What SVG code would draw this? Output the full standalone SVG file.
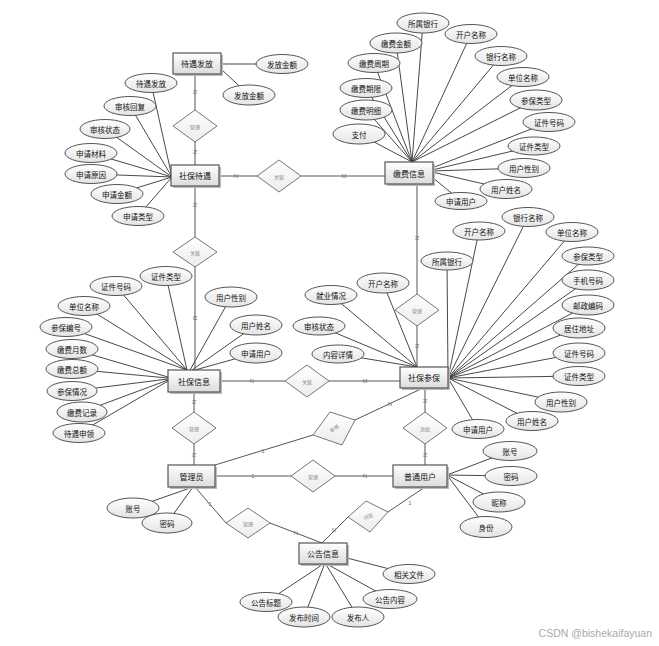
<svg xmlns="http://www.w3.org/2000/svg" width="659" height="646" viewBox="0 0 659 646">
<defs>
<linearGradient id="ge" x1="0" y1="0" x2="0" y2="1"><stop offset="0" stop-color="#ffffff"/><stop offset="1" stop-color="#e4e4e4"/></linearGradient>
<linearGradient id="gr" x1="0" y1="0" x2="0" y2="1"><stop offset="0" stop-color="#ffffff"/><stop offset="1" stop-color="#dcdcdc"/></linearGradient>
<linearGradient id="gd" x1="0" y1="0" x2="0" y2="1"><stop offset="0" stop-color="#ffffff"/><stop offset="1" stop-color="#ececec"/></linearGradient>
</defs>
<style>
.bg{fill:#ffffff}
.ln{stroke:#333;stroke-width:0.9;fill:none}
.rl{stroke:#555;stroke-width:1;fill:none}
ellipse{fill:url(#ge);stroke:#555;stroke-width:1}
.ent rect.s{fill:#bbb;stroke:none}
.ent rect.b{fill:url(#gr);stroke:#555;stroke-width:1.2}
.dia{fill:url(#gd);stroke:#777;stroke-width:1}
text{font-family:"Noto Sans CJK SC","Noto Sans",sans-serif;text-anchor:middle;dominant-baseline:central}
.at{font-size:7.5px;fill:#111}
.et{font-size:8px;fill:#111}
.dt{font-size:5px;fill:#888}
.cd{font-size:6px;fill:#777;font-family:"Liberation Sans",Arial,sans-serif}
.wm{font-size:10.5px;fill:#aaa;font-family:"Liberation Sans","Noto Sans CJK SC",sans-serif;text-anchor:end}
</style>
<rect class="bg" x="0" y="0" width="659" height="646"/>

<g id="connectors">
<!-- attribute lines: 待遇发放 -->
<line class="ln" x1="221" y1="64" x2="282" y2="64"/>
<line class="ln" x1="221" y1="69" x2="249" y2="95"/>
<!-- 社保待遇 attributes -->
<line class="ln" x1="172" y1="177" x2="151" y2="83"/>
<line class="ln" x1="172" y1="177" x2="130" y2="106"/>
<line class="ln" x1="172" y1="177" x2="105" y2="129"/>
<line class="ln" x1="172" y1="177" x2="91" y2="153"/>
<line class="ln" x1="172" y1="177" x2="91" y2="174"/>
<line class="ln" x1="172" y1="177" x2="117" y2="194"/>
<line class="ln" x1="172" y1="177" x2="138" y2="216"/>
<!-- 缴费信息 attributes -->
<line class="ln" x1="412" y1="162" x2="423" y2="23"/>
<line class="ln" x1="412" y1="162" x2="471" y2="34"/>
<line class="ln" x1="412" y1="162" x2="396" y2="43"/>
<line class="ln" x1="412" y1="162" x2="501" y2="56"/>
<line class="ln" x1="412" y1="162" x2="374" y2="63"/>
<line class="ln" x1="412" y1="162" x2="523" y2="77"/>
<line class="ln" x1="412" y1="162" x2="366" y2="88"/>
<line class="ln" x1="412" y1="162" x2="536" y2="100"/>
<line class="ln" x1="412" y1="162" x2="366" y2="110"/>
<line class="ln" x1="412" y1="162" x2="359" y2="134"/>
<line class="ln" x1="432" y1="168" x2="549" y2="122"/>
<line class="ln" x1="432" y1="170" x2="534" y2="146"/>
<line class="ln" x1="432" y1="171" x2="524" y2="168"/>
<line class="ln" x1="432" y1="172" x2="506" y2="189"/>
<line class="ln" x1="432" y1="177" x2="461" y2="201"/>
<!-- 社保信息 attributes -->
<line class="ln" x1="187" y1="370" x2="166" y2="276"/>
<line class="ln" x1="187" y1="370" x2="116" y2="286"/>
<line class="ln" x1="187" y1="370" x2="84" y2="306"/>
<line class="ln" x1="187" y1="370" x2="66" y2="327"/>
<line class="ln" x1="168" y1="377" x2="72" y2="349"/>
<line class="ln" x1="168" y1="378" x2="72" y2="369"/>
<line class="ln" x1="168" y1="379" x2="72" y2="391"/>
<line class="ln" x1="168" y1="380" x2="82" y2="412"/>
<line class="ln" x1="168" y1="381" x2="79" y2="433"/>
<line class="ln" x1="190" y1="370" x2="231" y2="297"/>
<line class="ln" x1="192" y1="370" x2="256" y2="325"/>
<line class="ln" x1="195" y1="370" x2="256" y2="353"/>
<!-- 社保参保 attributes -->
<line class="ln" x1="417" y1="367" x2="331" y2="295"/>
<line class="ln" x1="417" y1="367" x2="383" y2="283"/>
<line class="ln" x1="417" y1="367" x2="319" y2="326"/>
<line class="ln" x1="417" y1="367" x2="338" y2="354"/>
<line class="ln" x1="448" y1="378" x2="479" y2="231"/>
<line class="ln" x1="448" y1="378" x2="528" y2="217"/>
<line class="ln" x1="448" y1="378" x2="572" y2="232"/>
<line class="ln" x1="448" y1="378" x2="447" y2="261"/>
<line class="ln" x1="448" y1="378" x2="588" y2="256"/>
<line class="ln" x1="448" y1="378" x2="588" y2="280"/>
<line class="ln" x1="448" y1="378" x2="588" y2="305"/>
<line class="ln" x1="448" y1="378" x2="579" y2="328"/>
<line class="ln" x1="448" y1="378" x2="579" y2="353"/>
<line class="ln" x1="448" y1="378" x2="579" y2="376"/>
<line class="ln" x1="448" y1="378" x2="561" y2="402"/>
<line class="ln" x1="448" y1="378" x2="532" y2="421"/>
<line class="ln" x1="448" y1="378" x2="478" y2="429"/>
<!-- 普通用户 attributes -->
<line class="ln" x1="447" y1="475" x2="510" y2="451"/>
<line class="ln" x1="447" y1="475" x2="511" y2="476"/>
<line class="ln" x1="447" y1="475" x2="499" y2="502"/>
<line class="ln" x1="447" y1="475" x2="486" y2="527"/>
<!-- 管理员 attributes -->
<line class="ln" x1="193" y1="487" x2="133" y2="508"/>
<line class="ln" x1="193" y1="487" x2="167" y2="523"/>
<!-- 公告信息 attributes -->
<line class="ln" x1="347" y1="558" x2="409" y2="574"/>
<line class="ln" x1="325" y1="563" x2="266" y2="602"/>
<line class="ln" x1="325" y1="563" x2="304" y2="617"/>
<line class="ln" x1="325" y1="563" x2="358" y2="617"/>
<line class="ln" x1="325" y1="563" x2="390" y2="599"/>

<!-- relationship lines -->
<line class="rl" x1="195" y1="74" x2="195" y2="165"/>
<line class="rl" x1="195" y1="186" x2="195" y2="370"/>
<line class="rl" x1="219" y1="176" x2="385" y2="176"/>
<line class="rl" x1="417" y1="184" x2="417" y2="367"/>
<line class="rl" x1="220" y1="381" x2="400" y2="381"/>
<line class="rl" x1="194" y1="392" x2="194" y2="465"/>
<line class="rl" x1="425" y1="388" x2="425" y2="465"/>
<line class="rl" x1="215" y1="476" x2="393" y2="476"/>
<polyline class="rl" points="215,465 313,435"/>
<polyline class="rl" points="355,420 423,388"/>
<polyline class="rl" points="195,487 226,523"/>
<polyline class="rl" points="270,523 322,543"/>
<polyline class="rl" points="425,487 388,512"/>
<polyline class="rl" points="348,517 322,543"/>

<!-- cardinality labels -->
<text class="cd" transform="translate(195,92) rotate(90)">N</text>
<text class="cd" transform="translate(195,152) rotate(90)">N</text>
<text class="cd" transform="translate(195,205) rotate(90)">N</text>
<text class="cd" transform="translate(195,318) rotate(90)">M</text>
<text class="cd" x="236" y="176">N</text>
<text class="cd" x="344" y="176">M</text>
<text class="cd" transform="translate(417,238) rotate(90)">N</text>
<text class="cd" transform="translate(417,346) rotate(90)">N</text>
<text class="cd" x="252" y="381">N</text>
<text class="cd" x="365" y="381">M</text>
<text class="cd" transform="translate(194,402) rotate(90)">N</text>
<text class="cd" transform="translate(194,455) rotate(90)">N</text>
<text class="cd" transform="translate(425,401) rotate(90)">N</text>
<text class="cd" transform="translate(425,455) rotate(90)">N</text>
<text class="cd" x="263" y="451">1</text>
<text class="cd" x="390" y="404">N</text>
<text class="cd" x="253" y="476">1</text>
<text class="cd" x="365" y="476">N</text>
<text class="cd" x="210" y="504">1</text>
<text class="cd" x="296" y="533">N</text>
<text class="cd" x="410" y="503">1</text>
<text class="cd" x="334" y="530">N</text>
</g>

<!-- relationships -->
<g id="r-manage1"><polygon class="dia" points="195,110 217,126 195,142 173,126"/><text class="dt" x="195" y="126">管理</text></g>
<g id="r-link1"><polygon class="dia" points="195,237 217,252 195,267 173,252"/><text class="dt" x="195" y="252">关联</text></g>
<g id="r-link2"><polygon class="dia" points="279,160 301,176 279,192 257,176"/><text class="dt" x="279" y="176">关联</text></g>
<g id="r-manage2"><polygon class="dia" points="417,294 439,310 417,326 395,310"/><text class="dt" x="417" y="310">管理</text></g>
<g id="r-link3"><polygon class="dia" points="307,365 329,381 307,397 285,381"/><text class="dt" x="307" y="381">关联</text></g>
<g id="r-manage3"><polygon class="dia" points="194,412 216,428 194,444 172,428"/><text class="dt" x="194" y="428">管理</text></g>
<g id="r-audit"><polygon class="dia" points="313,435 330,412 355,420 342,445"/><text class="dt" transform="translate(334,428) rotate(-35)">审核</text></g>
<g id="r-add"><polygon class="dia" points="425,412 447,428 425,444 403,428"/><text class="dt" x="425" y="428">添加</text></g>
<g id="r-manage4"><polygon class="dia" points="313,460 335,476 313,492 291,476"/><text class="dt" x="313" y="476">管理</text></g>
<g id="r-manage5"><polygon class="dia" points="248,508 270,523 248,538 226,523"/><text class="dt" x="248" y="523">管理</text></g>
<g id="r-browse"><polygon class="dia" points="348,517 366,501 388,512 370,532"/><text class="dt" transform="translate(368,516) rotate(-20)">浏览</text></g>

<!-- entities -->
<g id="e-dyff" class="ent"><rect class="s" x="175" y="55" width="48" height="21"/><rect class="b" x="173" y="53" width="48" height="21"/><text class="et" x="197" y="63.5">待遇发放</text></g>
<g id="e-sbdy" class="ent"><rect class="s" x="173" y="167" width="48" height="21"/><rect class="b" x="171" y="165" width="48" height="21"/><text class="et" x="195" y="175.5">社保待遇</text></g>
<g id="e-jfxx" class="ent"><rect class="s" x="387" y="164" width="48" height="22"/><rect class="b" x="385" y="162" width="48" height="22"/><text class="et" x="409" y="173">缴费信息</text></g>
<g id="e-sbxx" class="ent"><rect class="s" x="170" y="372" width="52" height="22"/><rect class="b" x="168" y="370" width="52" height="22"/><text class="et" x="194" y="381">社保信息</text></g>
<g id="e-sbcb" class="ent"><rect class="s" x="402" y="369" width="48" height="21"/><rect class="b" x="400" y="367" width="48" height="21"/><text class="et" x="424" y="377.5">社保参保</text></g>
<g id="e-gly" class="ent"><rect class="s" x="170" y="467" width="47" height="22"/><rect class="b" x="168" y="465" width="47" height="22"/><text class="et" x="191.5" y="476">管理员</text></g>
<g id="e-ptyh" class="ent"><rect class="s" x="395" y="467" width="54" height="22"/><rect class="b" x="393" y="465" width="54" height="22"/><text class="et" x="420" y="476">普通用户</text></g>
<g id="e-ggxx" class="ent"><rect class="s" x="301" y="545" width="48" height="21"/><rect class="b" x="299" y="543" width="48" height="21"/><text class="et" x="323" y="553.5">公告信息</text></g>

<!-- attributes -->
<g id="a-dyff-1"><ellipse cx="282" cy="64" rx="26" ry="9.5"/><text class="at" x="282" y="64">发放金额</text></g>
<g id="a-dyff-2"><ellipse cx="249" cy="95" rx="26" ry="10"/><text class="at" x="249" y="95">发放金额</text></g>

<g id="a-sbdy-1"><ellipse cx="151" cy="83" rx="26" ry="9.5"/><text class="at" x="151" y="83">待遇发放</text></g>
<g id="a-sbdy-2"><ellipse cx="130" cy="106" rx="26" ry="9.5"/><text class="at" x="130" y="106">审核回复</text></g>
<g id="a-sbdy-3"><ellipse cx="105" cy="129" rx="25" ry="9.5"/><text class="at" x="105" y="129">审核状态</text></g>
<g id="a-sbdy-4"><ellipse cx="91" cy="153" rx="26" ry="9.5"/><text class="at" x="91" y="153">申请材料</text></g>
<g id="a-sbdy-5"><ellipse cx="91" cy="174" rx="26" ry="9.5"/><text class="at" x="91" y="174">申请原因</text></g>
<g id="a-sbdy-6"><ellipse cx="117" cy="194" rx="26" ry="9.5"/><text class="at" x="117" y="194">申请金额</text></g>
<g id="a-sbdy-7"><ellipse cx="138" cy="216" rx="26" ry="9.5"/><text class="at" x="138" y="216">申请类型</text></g>

<g id="a-jf-1"><ellipse cx="423" cy="23" rx="26" ry="10"/><text class="at" x="423" y="23">所属银行</text></g>
<g id="a-jf-2"><ellipse cx="471" cy="34" rx="26" ry="9.5"/><text class="at" x="471" y="34">开户名称</text></g>
<g id="a-jf-3"><ellipse cx="396" cy="43" rx="26" ry="10"/><text class="at" x="396" y="43">缴费金额</text></g>
<g id="a-jf-4"><ellipse cx="501" cy="56" rx="26" ry="9.5"/><text class="at" x="501" y="56">银行名称</text></g>
<g id="a-jf-5"><ellipse cx="374" cy="63" rx="26" ry="9.5"/><text class="at" x="374" y="63">缴费周期</text></g>
<g id="a-jf-6"><ellipse cx="523" cy="77" rx="26" ry="9.5"/><text class="at" x="523" y="77">单位名称</text></g>
<g id="a-jf-7"><ellipse cx="366" cy="88" rx="26" ry="9.5"/><text class="at" x="366" y="88">缴费期限</text></g>
<g id="a-jf-8"><ellipse cx="536" cy="100" rx="26" ry="10"/><text class="at" x="536" y="100">参保类型</text></g>
<g id="a-jf-9"><ellipse cx="366" cy="110" rx="26" ry="10"/><text class="at" x="366" y="110">缴费明细</text></g>
<g id="a-jf-10"><ellipse cx="549" cy="122" rx="26" ry="9.5"/><text class="at" x="549" y="122">证件号码</text></g>
<g id="a-jf-11"><ellipse cx="359" cy="134" rx="26" ry="10"/><text class="at" x="359" y="134">支付</text></g>
<g id="a-jf-12"><ellipse cx="534" cy="146" rx="26" ry="9"/><text class="at" x="534" y="146">证件类型</text></g>
<g id="a-jf-13"><ellipse cx="524" cy="168" rx="26" ry="9.5"/><text class="at" x="524" y="168">用户性别</text></g>
<g id="a-jf-14"><ellipse cx="506" cy="189" rx="26" ry="9.5"/><text class="at" x="506" y="189">用户姓名</text></g>
<g id="a-jf-15"><ellipse cx="461" cy="201" rx="26" ry="8.5"/><text class="at" x="461" y="201">申请用户</text></g>

<g id="a-sx-1"><ellipse cx="166" cy="276" rx="26" ry="9.5"/><text class="at" x="166" y="276">证件类型</text></g>
<g id="a-sx-2"><ellipse cx="116" cy="286" rx="26" ry="9.5"/><text class="at" x="116" y="286">证件号码</text></g>
<g id="a-sx-3"><ellipse cx="84" cy="306" rx="26" ry="9.5"/><text class="at" x="84" y="306">单位名称</text></g>
<g id="a-sx-4"><ellipse cx="66" cy="327" rx="26" ry="9.5"/><text class="at" x="66" y="327">参保编号</text></g>
<g id="a-sx-5"><ellipse cx="72" cy="349" rx="26" ry="9.5"/><text class="at" x="72" y="349">缴费月数</text></g>
<g id="a-sx-6"><ellipse cx="72" cy="369" rx="26" ry="9.5"/><text class="at" x="72" y="369">缴费总额</text></g>
<g id="a-sx-7"><ellipse cx="72" cy="391" rx="25" ry="9.5"/><text class="at" x="72" y="391">参保情况</text></g>
<g id="a-sx-8"><ellipse cx="82" cy="412" rx="25" ry="10"/><text class="at" x="82" y="412">缴费记录</text></g>
<g id="a-sx-9"><ellipse cx="79" cy="433" rx="26" ry="9.5"/><text class="at" x="79" y="433">待遇申领</text></g>
<g id="a-sx-10"><ellipse cx="231" cy="297" rx="26" ry="10"/><text class="at" x="231" y="297">用户性别</text></g>
<g id="a-sx-11"><ellipse cx="256" cy="325" rx="26" ry="10"/><text class="at" x="256" y="325">用户姓名</text></g>
<g id="a-sx-12"><ellipse cx="256" cy="353" rx="26" ry="10"/><text class="at" x="256" y="353">申请用户</text></g>

<g id="a-cb-1"><ellipse cx="331" cy="295" rx="26" ry="9.5"/><text class="at" x="331" y="295">就业情况</text></g>
<g id="a-cb-2"><ellipse cx="383" cy="283" rx="26" ry="10"/><text class="at" x="383" y="283">开户名称</text></g>
<g id="a-cb-3"><ellipse cx="319" cy="326" rx="26" ry="9"/><text class="at" x="319" y="326">审核状态</text></g>
<g id="a-cb-4"><ellipse cx="338" cy="354" rx="26" ry="9"/><text class="at" x="338" y="354">内容详情</text></g>
<g id="a-cb-5"><ellipse cx="479" cy="231" rx="26" ry="9"/><text class="at" x="479" y="231">开户名称</text></g>
<g id="a-cb-6"><ellipse cx="528" cy="217" rx="26" ry="9.5"/><text class="at" x="528" y="217">银行名称</text></g>
<g id="a-cb-7"><ellipse cx="572" cy="232" rx="26" ry="9.5"/><text class="at" x="572" y="232">单位名称</text></g>
<g id="a-cb-8"><ellipse cx="447" cy="261" rx="26" ry="9"/><text class="at" x="447" y="261">所属银行</text></g>
<g id="a-cb-9"><ellipse cx="588" cy="256" rx="26" ry="9"/><text class="at" x="588" y="256">参保类型</text></g>
<g id="a-cb-10"><ellipse cx="588" cy="280" rx="26" ry="10"/><text class="at" x="588" y="280">手机号码</text></g>
<g id="a-cb-11"><ellipse cx="588" cy="305" rx="26" ry="10"/><text class="at" x="588" y="305">邮政编码</text></g>
<g id="a-cb-12"><ellipse cx="579" cy="328" rx="26" ry="10"/><text class="at" x="579" y="328">居住地址</text></g>
<g id="a-cb-13"><ellipse cx="579" cy="353" rx="26" ry="10"/><text class="at" x="579" y="353">证件号码</text></g>
<g id="a-cb-14"><ellipse cx="579" cy="376" rx="26" ry="9.5"/><text class="at" x="579" y="376">证件类型</text></g>
<g id="a-cb-15"><ellipse cx="561" cy="402" rx="26" ry="10"/><text class="at" x="561" y="402">用户性别</text></g>
<g id="a-cb-16"><ellipse cx="532" cy="421" rx="26" ry="9.5"/><text class="at" x="532" y="421">用户姓名</text></g>
<g id="a-cb-17"><ellipse cx="478" cy="429" rx="26" ry="9.5"/><text class="at" x="478" y="429">申请用户</text></g>

<g id="a-pt-1"><ellipse cx="510" cy="451" rx="27" ry="9.5"/><text class="at" x="510" y="451">账号</text></g>
<g id="a-pt-2"><ellipse cx="511" cy="476" rx="26" ry="9.5"/><text class="at" x="511" y="476">密码</text></g>
<g id="a-pt-3"><ellipse cx="499" cy="502" rx="26" ry="10"/><text class="at" x="499" y="502">昵称</text></g>
<g id="a-pt-4"><ellipse cx="486" cy="527" rx="26" ry="10.5"/><text class="at" x="486" y="527">身份</text></g>

<g id="a-gl-1"><ellipse cx="133" cy="508" rx="26" ry="10"/><text class="at" x="133" y="508">账号</text></g>
<g id="a-gl-2"><ellipse cx="167" cy="523" rx="25" ry="10"/><text class="at" x="167" y="523">密码</text></g>

<g id="a-gg-1"><ellipse cx="409" cy="574" rx="26" ry="9.5"/><text class="at" x="409" y="574">相关文件</text></g>
<g id="a-gg-2"><ellipse cx="266" cy="602" rx="26" ry="9.5"/><text class="at" x="266" y="602">公告标题</text></g>
<g id="a-gg-3"><ellipse cx="304" cy="617" rx="26" ry="10"/><text class="at" x="304" y="617">发布时间</text></g>
<g id="a-gg-4"><ellipse cx="358" cy="617" rx="26" ry="10"/><text class="at" x="358" y="617">发布人</text></g>
<g id="a-gg-5"><ellipse cx="390" cy="599" rx="27" ry="9.5"/><text class="at" x="390" y="599">公告内容</text></g>

<text class="wm" x="652" y="633">CSDN @bishekaifayuan</text>
</svg>
